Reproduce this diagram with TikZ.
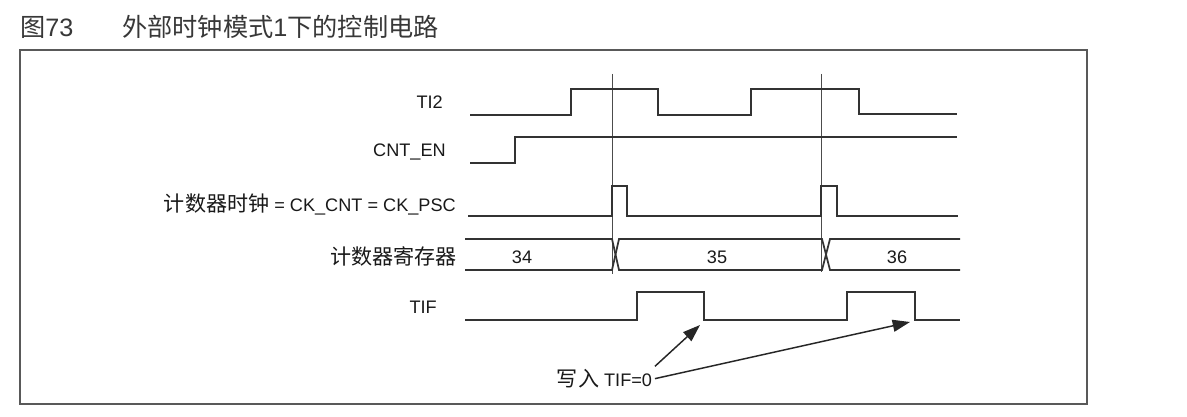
\documentclass[tikz,border=0pt]{standalone}
\usepackage{fontspec}
\setmainfont{Liberation Sans}
\newfontfamily\cjk{Noto Sans CJK SC}
\usetikzlibrary{arrows.meta}
\newcommand{\zh}[1]{{\cjk\fontsize{15.8}{18}\selectfont #1}}

\begin{document}
\begin{tikzpicture}[x=0.75pt, y=-0.75pt,
		wave/.style={draw=black!80, line width=1.3pt, line join=miter},
		guide/.style={draw=black!70, line width=0.6pt},
		sig/.style={anchor=base east, inner sep=0pt, text=black!90, font=\fontsize{13.6}{16}\selectfont},
		val/.style={anchor=base, inner sep=0pt, text=black!90, font=\fontsize{13.6}{16}\selectfont},
		title/.style={anchor=base west, inner sep=0pt, text=black!78, font=\fontsize{18.9}{22}\selectfont},
		note/.style={-{Triangle[length=13pt, width=9pt]}, line width=1.1pt, draw=black!85},
	]
		\useasboundingbox[fill=white] (0,0) rectangle (1187,417);

		\node (fig) [title] at (20,36.5) {{\cjk 图}73};
		\node (cap) [title] at (122,36.5) {{\cjk 外部时钟模式}1{\cjk 下的控制电路}};
		\draw[draw=black!65, line width=1.4pt] (20,50) rectangle (1087,404);

		% signal names
		\node (ti2) [sig] at (443,108.5) {TI2};
		\node (cnten) [sig] at (446,156.5) {CNT\_EN};
		\node (ckcnt) [sig] at (456,211.5) {\zh{计数器时钟} = CK\_CNT = CK\_PSC};
		\node (cntreg) [sig] at (457,264.5) {\zh{计数器寄存器}};
		\node (tif) [sig] at (437,313.5) {TIF};

		% edges of the counter clock
		\draw[guide] (612,74) -- (612,274);
		\draw[guide] (821,74) -- (821,272);

		% waveforms
		\draw[wave] (470,115) -- (571,115) -- (571,89) -- (658,89) -- (658,115) -- (751,115) -- (751,89) -- (859,89) -- (859,114) -- (957,114);
		\draw[wave] (470,163) -- (515,163) -- (515,137) -- (957,137);
		\draw[wave] (468,216) -- (612,216) -- (612,186) -- (627,186) -- (627,216) -- (821,216) -- (821,186) -- (837,186) -- (837,216) -- (958,216);
		\draw[wave] (465,239) -- (612,239) -- (619,270) -- (822,270) -- (830,239) -- (960,239);
		\draw[wave] (465,270) -- (612,270) -- (619,239) -- (822,239) -- (830,270) -- (960,270);
		\draw[wave] (465,320) -- (637,320) -- (637,292) -- (704,292) -- (704,320) -- (847,320) -- (847,292) -- (915,292) -- (915,320) -- (960,320);

		\node (v34) [val] at (522,263.5) {34};
		\node (v35) [val] at (717,263.5) {35};
		\node (v36) [val] at (897,263.5) {36};

		% clearing the flag
		\coordinate (clr1) at (700,325);
		\coordinate (clr2) at (910,322);
		\node (wr) [val, inner sep=2pt] at (604.5,386.5) {\zh{写入} TIF=0};
		\draw[note] (wr.north east) -- (clr1);
		\draw[note] (wr.east) -- (clr2);
	\end{tikzpicture}
\end{document}
